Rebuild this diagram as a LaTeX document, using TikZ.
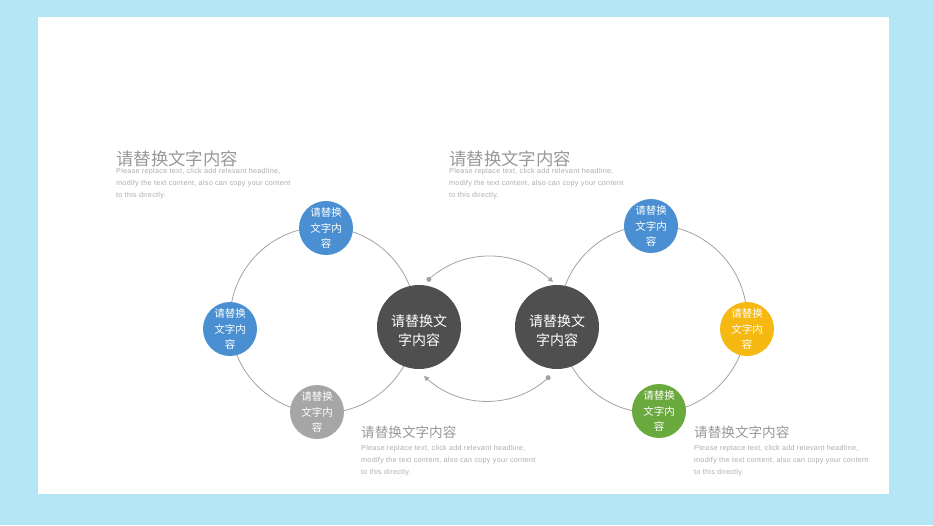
\documentclass[tikz,border=0pt]{standalone}
\usepackage{fontspec}
\setmainfont{Liberation Sans}
\newfontfamily\cjk{Noto Sans CJK SC}
\newfontfamily\bodyfont[LetterSpace=4]{Liberation Sans}
\usetikzlibrary{arrows.meta}
\definecolor{bgblue}{HTML}{B5E6F5}
\definecolor{cblue}{HTML}{4A8FD2}
\definecolor{cgray}{HTML}{A6A6A6}
\definecolor{cyellow}{HTML}{F6B912}
\definecolor{cgreen}{HTML}{69A93D}
\definecolor{cdark}{HTML}{4F4F4F}
\definecolor{ringc}{HTML}{A3A3A3}
\definecolor{titlec}{HTML}{999999}
\definecolor{bodyc}{HTML}{ADADAD}
\tikzset{
  small/.style={circle,fill=#1,minimum size=54pt,inner sep=0pt,text=white,
    align=center,font=\cjk\fontsize{10.5}{15.8}\selectfont},
  big/.style={circle,fill=cdark,minimum size=84pt,inner sep=0pt},
  bigtext/.style={text=white,inner sep=0pt,align=center,font=\cjk\fontsize{14}{19.5}\selectfont},
  ring/.style={draw=ringc,line width=0.8pt},
  link/.style={draw=ringc,line width=0.8pt,{Circle[length=5pt]}-{Triangle[length=5pt,width=5pt]}},
  ttl/.style={anchor=west,text=titlec,inner sep=0pt,font=\cjk\fontsize{#1}{#1}\selectfont},
  body/.style={anchor=north west,text=bodyc,inner sep=0pt,align=left,font=\bodyfont\fontsize{7.2}{11.6}\selectfont}
}
\begin{document}
\begin{tikzpicture}[x=1pt,y=-1pt]
\useasboundingbox (0,0) rectangle (933,525);
\fill[bgblue] (0,0) rectangle (933,525);
\fill[white] (38,17) rectangle (889,494);
% rings
\draw[ring] (323,320) circle[radius=93];
\draw[ring] (653,319) circle[radius=94];
% link end points
\coordinate (tA) at (427,281);
\coordinate (tB) at (553,282);
\coordinate (bA) at (550,376);
\coordinate (bB) at (424,376);
\draw[link] (tA) to[bend left=42] (tB);
\draw[link] (bA) to[bend left=42] (bB);
% nodes
\node[big] (L) at (419,327) {};
\node[bigtext] (Lt) at (419,330.5) {请替换文\\字内容};
\node[big] (R) at (557,327) {};
\node[bigtext] (Rt) at (557,330.5) {请替换文\\字内容};
\node[small=cblue] (s1) at (326,228) {请替换\\文字内\\容};
\node[small=cblue] (s2) at (230,329) {请替换\\文字内\\容};
\node[small=cgray] (s3) at (317,412) {请替换\\文字内\\容};
\node[small=cblue] (s4) at (651,226) {请替换\\文字内\\容};
\node[small=cyellow] (s5) at (747,329) {请替换\\文字内\\容};
\node[small=cgreen] (s6) at (659,411) {请替换\\文字内\\容};
% texts
\node[ttl=17.4] (t1) at (116,158.5) {请替换文字内容};
\node[body] (b1) at (116,168.5) {Please replace text, click add relevant headline,\\modify the text content, also can copy your content\\to this directly.};
\node[ttl=17.4] (t2) at (449,158.5) {请替换文字内容};
\node[body] (b2) at (449,168.5) {Please replace text, click add relevant headline,\\modify the text content, also can copy your content\\to this directly.};
\node[ttl=13.6] (t3) at (361,432.5) {请替换文字内容};
\node[body] (b3) at (361,445.5) {Please replace text, click add relevant headline,\\modify the text content, also can copy your content\\to this directly.};
\node[ttl=13.6] (t4) at (694,432.5) {请替换文字内容};
\node[body] (b4) at (694,445.5) {Please replace text, click add relevant headline,\\modify the text content, also can copy your content\\to this directly.};
\end{tikzpicture}
\end{document}
